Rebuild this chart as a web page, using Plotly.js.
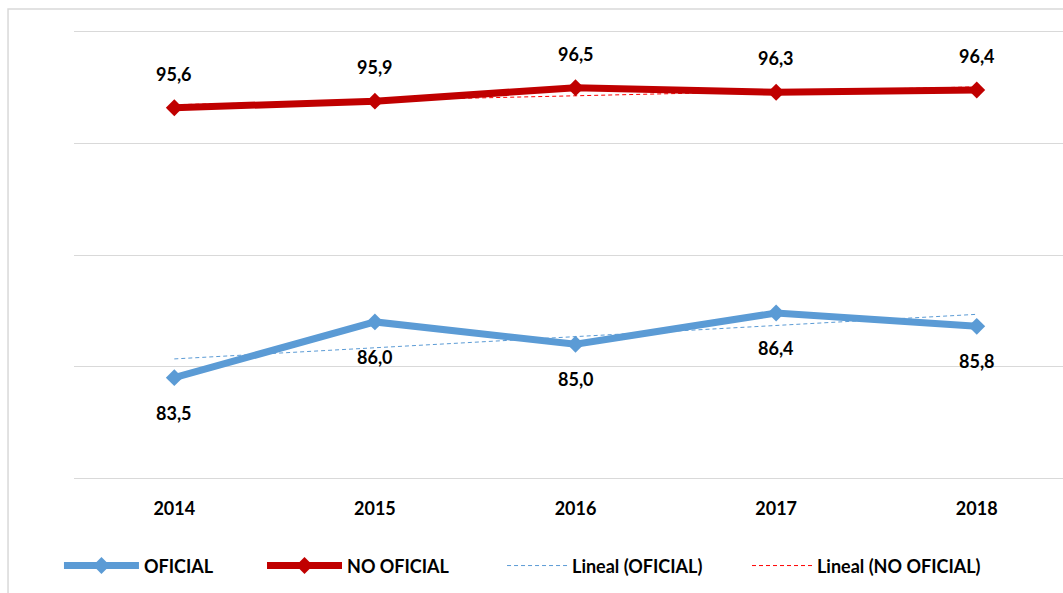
<!DOCTYPE html>
<html>
<head>
<meta charset="utf-8">
<script src="https://cdn.plot.ly/plotly-3.0.1.min.js"></script>
<style>html,body{margin:0;padding:0;background:#fff;}#chart{width:1063px;height:593px;}</style>
</head>
<body>
<div id="chart"></div>
<script>
var years = ['2014', '2015', '2016', '2017', '2018'];
var oficial = [83.5, 86.0, 85.0, 86.4, 85.8];
var noOficial = [95.6, 95.9, 96.5, 96.3, 96.4];
var seriesNames = ['OFICIAL', 'NO OFICIAL', 'Lineal (OFICIAL)', 'Lineal (NO OFICIAL)'];

// Excel-style linear trendline (least squares over category index)
function linearTrend(vals) {
  var n = vals.length, sx = 0, sy = 0, sxy = 0, sxx = 0;
  for (var i = 0; i < n; i++) { sx += i; sy += vals[i]; sxy += i * vals[i]; sxx += i * i; }
  var m = (n * sxy - sx * sy) / (n * sxx - sx * sx);
  var b = (sy - m * sx) / n;
  return vals.map(function (_, i) { return b + m * i; });
}

var FONT = 'Lato, "Open Sans", sans-serif';
var BLUE = '#5B9BD5', RED = '#C00000';

var traces = [
  {x: years, y: linearTrend(oficial), name: seriesNames[2], type: 'scatter', mode: 'lines',
   line: {color: BLUE, width: 1, dash: '4px,3px'}, legend: 'legend3'},
  {x: years, y: linearTrend(noOficial), name: seriesNames[3], type: 'scatter', mode: 'lines',
   line: {color: '#FF0000', width: 1, dash: '4px,3px'}, legend: 'legend4'},
  {x: years, y: oficial, name: seriesNames[0], type: 'scatter', mode: 'lines+markers',
   line: {color: BLUE, width: 7}, marker: {symbol: 'diamond', size: 13, color: BLUE}, legend: 'legend'},
  {x: years, y: noOficial, name: seriesNames[1], type: 'scatter', mode: 'lines+markers',
   line: {color: RED, width: 7}, marker: {symbol: 'diamond', size: 13, color: RED}, legend: 'legend2'}
];

function fmt(v) { return v.toFixed(1).replace('.', ','); }

var labelFont = {family: FONT, size: 18, color: '#000', weight: 'bold'};
var annotations = [];
years.forEach(function (yr, i) {
  annotations.push({x: i, y: noOficial[i], xref: 'x', yref: 'y', text: fmt(noOficial[i]),
    showarrow: false, yshift: 34, font: labelFont});
  annotations.push({x: i, y: oficial[i], xref: 'x', yref: 'y', text: fmt(oficial[i]),
    showarrow: false, yshift: -35, font: labelFont});
});

function legendAt(x, iw) {
  return {orientation: 'h', x: x, xanchor: 'left', y: -0.197, yanchor: 'middle', itemwidth: iw,
    font: {family: FONT, size: 18, color: '#000', weight: 'bold'}, bgcolor: 'rgba(0,0,0,0)'};
}

var layout = {
  width: 1063, height: 593,
  margin: {l: 74, r: 0, t: 32, b: 115},
  paper_bgcolor: '#fff', plot_bgcolor: '#fff',
  separators: ',.',
  font: {family: FONT, size: 18, color: '#000', weight: 'bold'},
  xaxis: {type: 'category', range: [-0.5, 4.43], showgrid: false, zeroline: false,
    showline: true, mirror: true, linecolor: '#D9D9D9', linewidth: 1, ticks: '', ticklabelstandoff: 14,
    tickfont: {family: FONT, size: 18, color: '#000', weight: 'bold'}, fixedrange: true},
  yaxis: {range: [79, 99], tick0: 79, dtick: 5, showticklabels: false, showgrid: true,
    gridcolor: '#D9D9D9', gridwidth: 1, zeroline: false, showline: false, ticks: '', fixedrange: true},
  showlegend: true,
  legend: legendAt(-0.0152, 75),
  legend2: legendAt(0.1901, 75),
  legend3: legendAt(0.4328, 60),
  legend4: legendAt(0.6805, 60),
  annotations: annotations,
  shapes: [{type: 'rect', xref: 'paper', yref: 'paper', x0: -0.0667, x1: 1.05, y0: -0.4, y1: 1.0516,
    line: {color: '#D9D9D9', width: 1.5}, fillcolor: 'rgba(0,0,0,0)', layer: 'below'}]
};

Plotly.newPlot('chart', traces, layout, {displayModeBar: false, staticPlot: true});
</script>
</body>
</html>
